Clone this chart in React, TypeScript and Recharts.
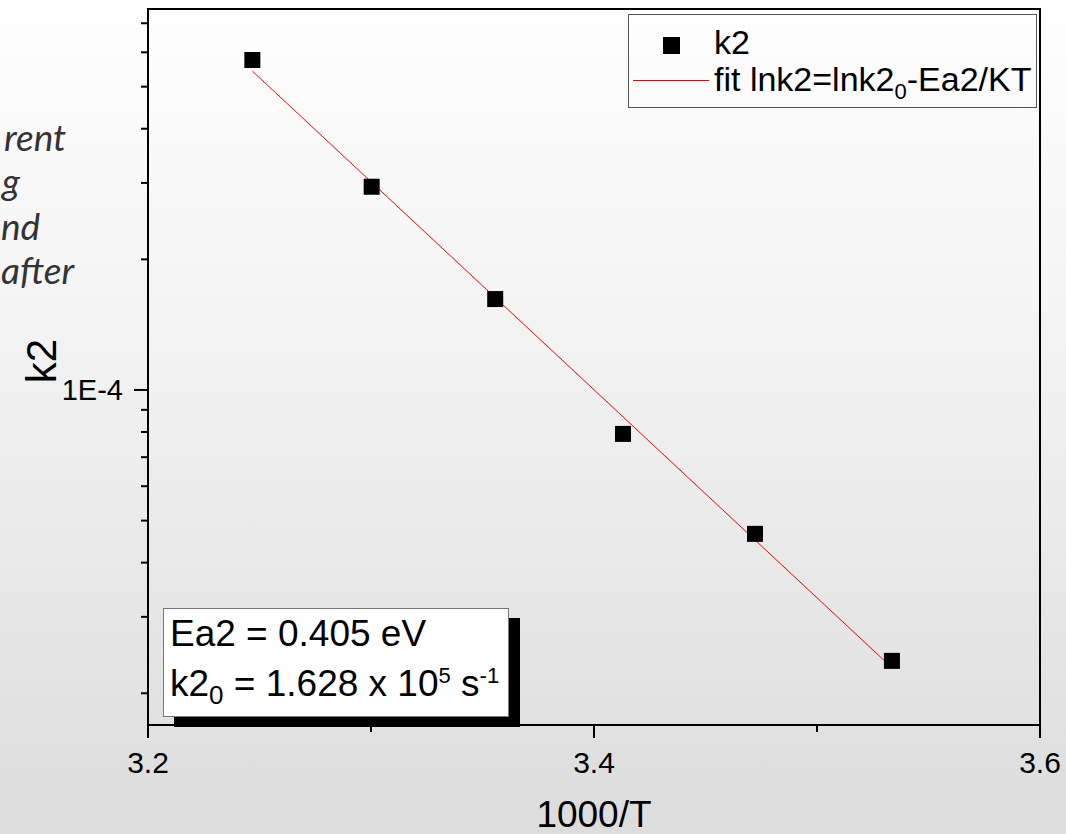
import React from 'react';
import {
  ComposedChart,
  Scatter,
  XAxis,
  YAxis,
  ReferenceArea,
  Legend,
  Label,
} from 'recharts';

// ---- data ----
const invT = [3.2468, 3.3003, 3.3557, 3.413, 3.4722, 3.5336];
const k2Values = [5.76e-4, 2.94e-4, 1.62e-4, 7.92e-5, 4.66e-5, 2.375e-5];
const fitInvT = [3.2468, 3.5336];
const fitK2 = [5.43e-4, 2.29e-5];

const xDomain = [3.2, 3.6];
const xTicks = [3.2, 3.3, 3.4, 3.5, 3.6];
const xLabeledTicks = [3.2, 3.4, 3.6];
const xTickLabels = ['3.2', '3.4', '3.6'];

const yDomain = [1.69e-5, 7.55e-4];
const yTicks = [2e-5, 3e-5, 4e-5, 5e-5, 6e-5, 7e-5, 8e-5, 9e-5, 1e-4, 2e-4, 3e-4, 4e-4, 5e-4, 6e-4, 7e-4];
const yLabeledTicks = [1e-4];
const yTickLabels = ['1E-4'];

const sideText = ['rent', 'g', 'nd', 'after'];

const seriesName = 'k2';
const fitName = 'fit lnk2=lnk2';

const pointData = invT.map((x, i) => ({ x, y: k2Values[i] }));
const fitData = fitInvT.map((x, i) => ({ x, y: fitK2[i] }));

const FONT = '"Liberation Sans", Arial, sans-serif';

const Y_TICK_SIZE = 14;
const Y_TICK_MARGIN = 11;
const X_TICK_SIZE = 13;
const X_TICK_MARGIN = 14;

const YTick = (props: any) => {
  const { x, y, payload } = props;
  const v = payload.value;
  const idx = yLabeledTicks.indexOf(v);
  const major = idx >= 0;
  const axisX = x + Y_TICK_SIZE + Y_TICK_MARGIN;
  return (
    <g>
      <line x1={axisX - (major ? 14 : 7)} x2={axisX} y1={y} y2={y} stroke="#000" strokeWidth={2} />
      {major && (
        <text x={x} y={y} textAnchor="end" dominantBaseline="central" fontSize={29} fill="#000" fontFamily={FONT}>
          {yTickLabels[idx]}
        </text>
      )}
    </g>
  );
};

const XTick = (props: any) => {
  const { x, y, payload } = props;
  const v = payload.value;
  const idx = xLabeledTicks.indexOf(v);
  const major = idx >= 0;
  const axisY = y - X_TICK_SIZE - X_TICK_MARGIN;
  return (
    <g>
      <line x1={x} x2={x} y1={axisY} y2={axisY + (major ? 13 : 7)} stroke="#000" strokeWidth={2} />
      {major && (
        <text x={x} y={y + 21} textAnchor="middle" fontSize={30} fill="#000" fontFamily={FONT}>
          {xTickLabels[idx]}
        </text>
      )}
    </g>
  );
};

const Square = (props: any) => {
  const { cx, cy } = props;
  if (cx == null || cy == null) return null;
  return <rect x={cx - 8} y={cy - 8} width={16} height={16} fill="#000" />;
};

const NoShape = () => null;

const LegendBox = () => (
  <div
    style={{
      position: 'relative',
      width: 409,
      height: 94,
      border: '1px solid #555',
      boxSizing: 'border-box',
      fontFamily: FONT,
      color: '#000',
    }}
  >
    <div style={{ position: 'absolute', left: 34, top: 22, width: 17, height: 17, background: '#000' }} />
    <div style={{ position: 'absolute', left: 85, top: 9, fontSize: 34, lineHeight: '36px' }}>{seriesName}</div>
    <div style={{ position: 'absolute', left: 4, top: 65, width: 76, height: 1, background: '#e00' }} />
    <div style={{ position: 'absolute', left: 85, top: 46, fontSize: 34, lineHeight: '36px', whiteSpace: 'nowrap' }}>
      {fitName}
      <sub style={{ fontSize: 22, lineHeight: 0 }}>0</sub>-Ea2/KT
    </div>
  </div>
);

export default function App() {
  return (
    <div
      style={{
        position: 'absolute',
        left: 0,
        top: 0,
        width: 1066,
        height: 834,
        overflow: 'hidden',
        background: 'linear-gradient(to bottom, #fefefe 0%, #f3f3f3 40%, #dcdcdc 100%)',
        fontFamily: FONT,
      }}
    >
      {sideText.map((t, i) => (
        <div
          key={i}
          style={{
            position: 'absolute',
            left: [4, 2, 1, 1][i],
            top: [116, 160, 205, 249][i],
            fontSize: 37,
            fontStyle: 'italic',
            fontFamily: 'Lato, "Open Sans", sans-serif',
            color: '#333',
            whiteSpace: 'nowrap',
            lineHeight: '42px',
          }}
        >
          {t}
        </div>
      ))}
      <ComposedChart
        width={1066}
        height={834}
        margin={{ top: 9, right: 26, bottom: 0, left: 48 }}
        style={{ position: 'absolute', left: 0, top: 0 }}
      >
        <XAxis
          type="number"
          dataKey="x"
          domain={xDomain}
          ticks={xTicks}
          interval={0}
          height={109}
          tickSize={X_TICK_SIZE}
          tickMargin={X_TICK_MARGIN}
          tickLine={false}
          tick={<XTick />}
          axisLine={{ stroke: '#000', strokeWidth: 2 }}
          allowDataOverflow
        >
          <Label value="1000/T" position="insideBottom" offset={7} fontSize={37} fill="#000" fontFamily={FONT} />
        </XAxis>
        <YAxis
          type="number"
          scale="log"
          domain={yDomain}
          ticks={yTicks}
          interval={0}
          width={100}
          tickSize={Y_TICK_SIZE}
          tickMargin={Y_TICK_MARGIN}
          tickLine={false}
          tick={<YTick />}
          axisLine={{ stroke: '#000', strokeWidth: 2 }}
          allowDataOverflow
        >
          <Label
            content={(p: any) => {
              const vb = p.viewBox || {};
              const cy = (vb.y || 0) + (vb.height || 0) / 2 - 6;
              return (
                <text
                  transform={`translate(41, ${cy}) rotate(-90)`}
                  textAnchor="middle"
                  dominantBaseline="central"
                  fontSize={42}
                  fill="#000"
                  fontFamily={FONT}
                >
                  k2
                </text>
              );
            }}
          />
        </YAxis>
        <ReferenceArea
          x1={xDomain[0]}
          x2={xDomain[1]}
          y1={yDomain[0]}
          y2={yDomain[1]}
          fill="none"
          stroke="#000"
          strokeWidth={2}
          ifOverflow="visible"
        />
        <Scatter
          name={fitName}
          data={fitData}
          dataKey="y"
          line={{ stroke: '#ff0000', strokeWidth: 1 }}
          shape={<NoShape />}
          isAnimationActive={false}
          legendType="line"
        />
        <Scatter
          name={seriesName}
          data={pointData}
          dataKey="y"
          shape={<Square />}
          fill="#000"
          isAnimationActive={false}
        />
        <Legend
          layout="horizontal"
          verticalAlign="middle"
          align="center"
          content={() => <LegendBox />}
          wrapperStyle={{ position: 'absolute', left: 628, top: 14, width: 409, height: 94 }}
        />
      </ComposedChart>
      <div
        style={{
          position: 'absolute',
          left: 163,
          top: 608,
          width: 346,
          height: 109,
          boxSizing: 'border-box',
          background: '#fff',
          border: '1px solid #777',
          boxShadow: '11px 10px 0 #000',
          color: '#000',
          fontSize: 37,
          lineHeight: '50px',
          paddingLeft: 6,
          paddingTop: 0,
          whiteSpace: 'nowrap',
        }}
      >
        <div>Ea2 = 0.405 eV</div>
        <div>
          k2<sub style={{ fontSize: 26, lineHeight: 0 }}>0</sub> = 1.628 x 10
          <sup style={{ fontSize: 22, lineHeight: 0 }}>5</sup> s<sup style={{ fontSize: 22, lineHeight: 0 }}>-1</sup>
        </div>
      </div>
    </div>
  );
}
